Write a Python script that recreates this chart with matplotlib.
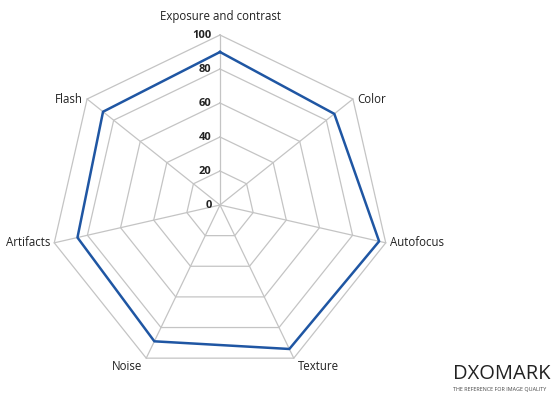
import numpy as np
import matplotlib
matplotlib.use("Agg")
import matplotlib.pyplot as plt

# Données du radar
categories = ["Exposure and contrast", "Color", "Autofocus", "Texture",
              "Noise", "Artifacts", "Flash"]
scores = [90, 86, 96, 94, 89, 86, 88]
ring_levels = [20, 40, 60, 80, 100]
tick_labels = ["0", "20", "40", "60", "80", "100"]

SCALE = 1.7  # pixels par unité
CX, CY = 220, 205  # centre en pixels (depuis le haut)
W, H = 560, 395


def to_xy(r, ang):
    return r * np.sin(ang), r * np.cos(ang)


def main():
    n = len(categories)
    angles = np.arange(n) * 2 * np.pi / n

    fig = plt.figure(figsize=(W / 100, H / 100), dpi=100)
    ax = fig.add_axes([0, 0, 1, 1])
    ax.set_xlim(-CX / SCALE, (W - CX) / SCALE)
    ax.set_ylim(-(H - CY) / SCALE, CY / SCALE)
    ax.axis("off")

    grid_color = "#c4c4c4"
    # Anneaux heptagonaux
    for lvl in ring_levels:
        x, y = to_xy(lvl, np.append(angles, angles[0]))
        ax.plot(x, y, color=grid_color, lw=0.9, zorder=1)
    # Rayons
    for a in angles:
        x, y = to_xy(np.array([0, 100]), a)
        ax.plot(x, y, color=grid_color, lw=0.9, zorder=1)

    # Série
    vals = np.array(scores + scores[:1])
    x, y = to_xy(vals, np.append(angles, angles[0]))
    ax.plot(x, y, color="#1f56a3", lw=1.8, zorder=3)

    # Graduations
    for i, lab in enumerate(tick_labels):
        ax.text(-5, i * 20, lab, ha="right", va="center", fontsize=8,
                fontweight="bold", color="#222222", family="Open Sans")

    # Étiquettes des catégories
    for cat, a in zip(categories, angles):
        x, y = to_xy(100, a)
        s = np.sin(a)
        c = np.cos(a)
        if abs(s) < 0.1:
            ha, va = "center", "bottom"
            y += 7
        else:
            ha = "left" if s > 0 else "right"
            x += 2.5 * np.sign(s)
            if c < -0.5:
                va = "top"
                y -= 1
            else:
                va = "center"
        ax.text(x, y, cat, ha=ha, va=va, fontsize=8.3, color="#222222",
                family="Open Sans")

    # Logo DXOMARK
    fig.text(453 / W, 1 - 374 / H, "DXOMARK", ha="left", va="center",
             fontsize=14.5, color="#222222", family="Open Sans")
    fig.text(453 / W, 1 - 389 / H, "THE REFERENCE FOR IMAGE QUALITY",
             ha="left", va="center", fontsize=3.9, color="#444444",
             family="Open Sans")

    fig.savefig("out.png", dpi=100)


if __name__ == "__main__":
    main()
